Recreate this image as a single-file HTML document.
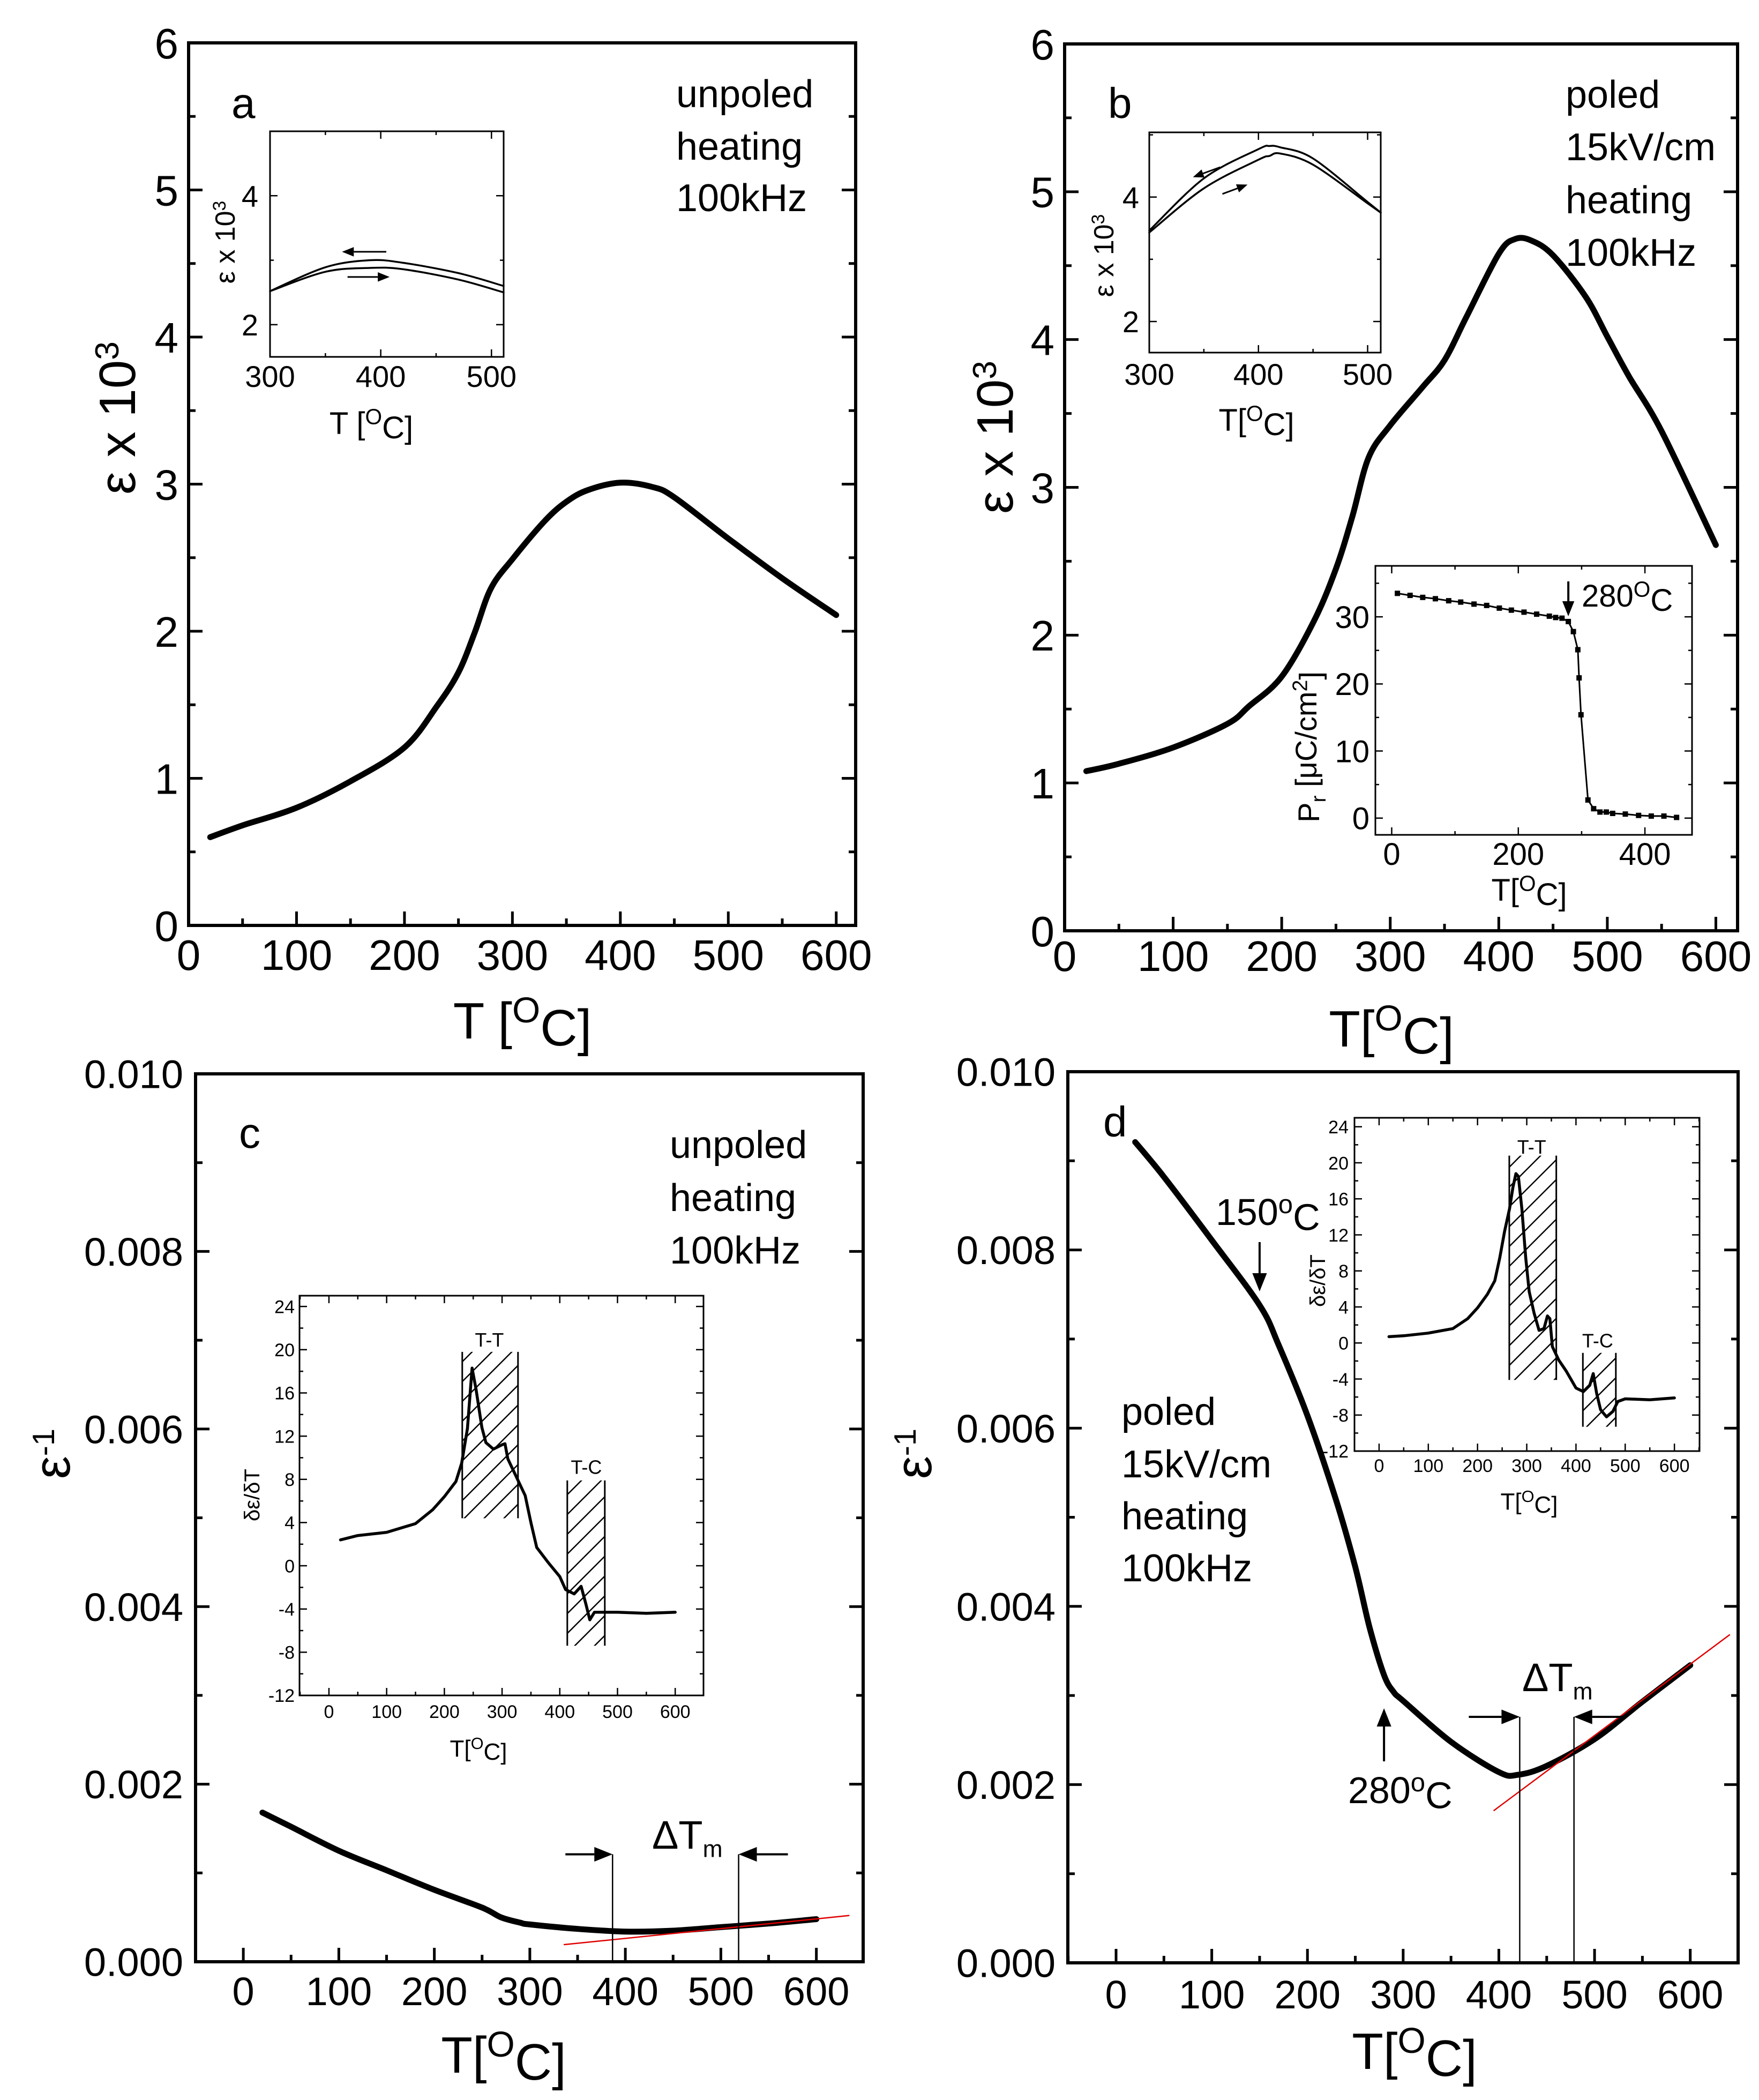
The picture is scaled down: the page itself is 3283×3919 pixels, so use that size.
<!DOCTYPE html>
<html><head><meta charset="utf-8"><style>
html,body{margin:0;padding:0;background:#fff}
svg{display:block}
text{font-family:"Liberation Sans",Arial,sans-serif;fill:#000}
</style></head><body>
<svg id="chart" xmlns="http://www.w3.org/2000/svg" width="3283" height="3919" viewBox="0 0 3283 3919">
<defs>
<pattern id="hatch" patternUnits="userSpaceOnUse" width="37" height="37">
<path d="M0,37 L37,0 M-5,5 L5,-5 M32,42 L42,32" stroke="#000" stroke-width="2.5" fill="none"/>
</pattern>
</defs>
<rect x="0" y="0" width="3283" height="3919" fill="#fff"/>
</svg>
<script>
// ---------- data ----------
const aT=[20,50,100,150,200,230,250,265,280,300,330,350,370,400,430,450,500,550,600];
const aE=[0.6,0.68,0.8,0.98,1.21,1.49,1.72,1.99,2.29,2.49,2.75,2.88,2.96,3.01,2.98,2.91,2.63,2.36,2.11];
const iaT=[300,350,390,420,470,511];
const iaCool=[2.52,2.89,3.0,2.96,2.8,2.6];
const iaHeat=[2.52,2.82,2.88,2.86,2.7,2.5];
const bT=[20,50,100,150,170,200,230,250,265,280,300,330,350,370,400,415,430,450,480,500,520,550,600];
const bE=[1.08,1.13,1.24,1.4,1.52,1.72,2.1,2.45,2.8,3.2,3.42,3.68,3.86,4.15,4.58,4.68,4.67,4.57,4.29,4.02,3.75,3.38,2.61];
const ibT=[300,350,400,410,420,450,500,512];
const ibCool=[3.46,4.3,4.77,4.82,4.8,4.62,3.92,3.75];
const ibHeat=[3.43,4.14,4.6,4.66,4.7,4.52,3.9,3.75];
const prT=[9,29,49,69,90,109,130,150,170,189,209,229,249,259,269,279,287,294,296,299,310,319,329,339,349,369,390,410,430,450];
const prP=[33.5,33.2,32.9,32.7,32.4,32.2,31.9,31.7,31.3,31.0,30.7,30.4,30.1,29.9,29.8,29.3,27.8,25.1,20.9,15.4,2.7,1.4,0.9,0.9,0.7,0.6,0.4,0.3,0.3,0.1];
const cT=[20,50,100,150,200,250,270,290,300,350,400,450,500,550,600];
const cInv=[0.00168,0.00152,0.00125,0.00103,0.00081,0.00061,0.00050,0.00044,0.00042,0.00037,0.00034,0.00035,0.00039,0.00043,0.00048];
const cFitT=[336,634];
const cFitV=[0.000193,0.00052];
const cMarks=[386.6,518.6];
const icT=[20,50,100,150,180,200,220,230,240,248,255,265,272,285,300,305,310,325,340,350,360,380,400,410,425,437,445,452,460,500,550,600];
const icD=[2.4,2.8,3.1,3.9,5.2,6.4,7.8,9.5,12.7,18.3,16.3,12.8,11.4,10.8,11.2,11.3,9.9,8.2,6.5,4.0,1.7,0.3,-1.0,-2.2,-2.6,-1.9,-3.5,-5.0,-4.3,-4.3,-4.4,-4.3];
const dT=[20,50,100,150,170,200,230,250,265,280,290,300,350,400,420,450,500,550,600];
const dInv=[0.00921,0.00882,0.00811,0.00738,0.00693,0.00614,0.00519,0.00444,0.00376,0.00323,0.00304,0.00294,0.00248,0.00214,0.00211,0.00221,0.00251,0.00293,0.00334];
const dFitT=[395,641];
const dFitV=[0.00171,0.00368];
const dMarks=[421.8,478.5];
const idT=[20,50,100,150,180,200,220,235,245,255,265,272,278,283,290,298,305,315,325,335,342,347,352,365,380,400,415,428,435,442,450,462,475,485,500,550,600];
const idD=[0.7,0.8,1.1,1.6,2.7,3.9,5.4,6.9,9.4,12.4,14.9,17.3,18.8,18.5,14.9,9.4,5.7,3.3,1.4,1.6,3.0,2.7,-0.4,-1.9,-3.1,-5.0,-5.4,-4.7,-3.4,-5.6,-7.4,-8.2,-7.6,-6.5,-6.2,-6.3,-6.1];
const mainXTicks=[0,100,200,300,400,500,600];
const epsYTicks=[0,1,2,3,4,5,6];
const invYTicks=[0,0.002,0.004,0.006,0.008,0.010];
const insetABXTicks=[300,400,500];
const insetABYTicks=[2,4];
const prXTicks=[0,200,400];
const prYTicks=[0,10,20,30];
const derivXTicks=[0,100,200,300,400,500,600];
const derivYTicks=[-12,-8,-4,0,4,8,12,16,20,24];
const hatchC=[[231,327.6,4.4,19.8],[413,478,-7.4,7.9]];
const hatchD=[[264.5,360,-4.1,20.8],[414,481,-9.3,-1.1]];

// ---------- helpers ----------
const NS='http://www.w3.org/2000/svg';
const svg=document.getElementById('chart');
const SQ=1;
function E(tag,parent){const e=document.createElementNS(NS,tag);parent.appendChild(e);return e;}
function A(e,o){for(const k in o)e.setAttribute(k,o[k]);return e;}
function scales(p){
  return {x:v=>p.L+(v-p.x0)/(p.x1-p.x0)*(p.R-p.L), y:v=>p.B-(v-p.y0)/(p.y1-p.y0)*(p.B-p.T)};
}
function txt(parent,x,y,html,fs,anchor,name,rot){
  const t=E('text',parent);
  
  
  let tr='translate('+x+','+y+')';
  if(rot) tr+=' rotate('+rot+')';
  tr+=' scale('+SQ+',1)';
  A(t,{x:0,y:0,'font-size':fs,'text-anchor':anchor||'start',transform:tr});
  t.innerHTML=html;
  return t;
}
function frame(parent,p,sw,name){
  const r=E('rect',parent);
  
  
  A(r,{x:p.L,y:p.T,width:p.R-p.L,height:p.B-p.T,fill:'none',stroke:'#000','stroke-width':sw});
}
function ticks(parent,p,o){
  const s=scales(p);
  const g=E('g',parent);
  
  
  let d='';
  const xs=[];for(let v=o.xMin0;v<=p.x1+1e-9;v+=o.xMinStep) if(v>=p.x0) xs.push(v);
  xs.forEach(v=>{const X=s.x(v);const major=o.xTicks.some(t=>Math.abs(t-v)<1e-6);const l=major?o.len:o.len/2;
    d+='M'+X+','+p.B+'v'+(-l); if(o.top) d+='M'+X+','+p.T+'v'+l;});
  const ys=[];for(let v=o.yMin0;v<=p.y1+1e-12;v+=o.yMinStep) if(v>=p.y0-1e-12) ys.push(v);
  ys.forEach(v=>{const Y=s.y(v);const major=o.yTicks.some(t=>Math.abs(t-v)<1e-9);const l=major?o.len:o.len/2;
    d+='M'+p.L+','+Y+'h'+l+'M'+p.R+','+Y+'h'+(-l);});
  A(E('path',g),{d:d,stroke:'#000','stroke-width':o.sw,fill:'none'});
  o.xTicks.forEach(v=>{txt(g,s.x(v),o.xLabY,o.fmtX?o.fmtX(v):String(v),o.fs,'middle',o.name+'-x-tick-label');});
  o.yTicks.forEach(v=>{txt(g,o.yLabX,s.y(v)+0.36*o.fs,o.fmtY?o.fmtY(v):String(v),o.fs,'end',o.name+'-y-tick-label');});
}
function curve(parent,p,xs,ys,sw,name,color,smooth){
  const s=scales(p);
  const path=E('path',parent);
  
  
  const P=xs.map((v,i)=>[s.x(v),s.y(ys[i])]);
  let d='M'+P[0][0].toFixed(1)+','+P[0][1].toFixed(1);
  for(let i=1;i<P.length;i++){
    if(smooth){
      const p0=P[Math.max(0,i-2)],p1=P[i-1],p2=P[i],p3=P[Math.min(P.length-1,i+1)];
      const c1=[p1[0]+(p2[0]-p0[0])/6,p1[1]+(p2[1]-p0[1])/6];
      const c2=[p2[0]-(p3[0]-p1[0])/6,p2[1]-(p3[1]-p1[1])/6];
      d+='C'+c1[0].toFixed(1)+','+c1[1].toFixed(1)+' '+c2[0].toFixed(1)+','+c2[1].toFixed(1)+' '+p2[0].toFixed(1)+','+p2[1].toFixed(1);
    } else d+='L'+P[i][0].toFixed(1)+','+P[i][1].toFixed(1);
  }
  A(path,{d:d,fill:'none',stroke:color||'#000','stroke-width':sw,'stroke-linejoin':'round','stroke-linecap':'round'});
  return path;
}
function arrow(parent,x1,y1,x2,y2,sw,head,name){
  const g=E('g',parent);
  
  
  const ang=Math.atan2(y2-y1,x2-x1);
  const bx=x2-head*Math.cos(ang),by=y2-head*Math.sin(ang);
  A(E('line',g),{x1:x1,y1:y1,x2:bx,y2:by,stroke:'#000','stroke-width':sw});
  const w=head*0.4;
  const px=-Math.sin(ang)*w,py=Math.cos(ang)*w;
  A(E('path',g),{d:'M'+x2+','+y2+'L'+(bx+px)+','+(by+py)+'L'+(bx-px)+','+(by-py)+'Z',fill:'#000'});
}
function group(name){const g=E('g',svg);return g;}
const SUPO='<tspan dy="-0.45em" font-size="0.7em">O</tspan><tspan dy="0.45em">';
function degLabel(pre){return pre+SUPO+'C]</tspan>';}

// ---------- Panel a ----------
const PA={L:352,R:1597,T:80,B:1727,x0:0,x1:618,y0:0,y1:6};
const ga=group('panel-a');
curve(ga,PA,aT,aE,11,'curve-a-permittivity',null,true);
frame(ga,PA,6,'panel-a-frame');
ticks(ga,PA,{name:'panel-a',xTicks:mainXTicks,xMin0:0,xMinStep:50,yTicks:epsYTicks,yMin0:0,yMinStep:0.5,len:26,sw:5,fs:80,xLabY:1810,yLabX:333});
txt(ga,975,1938,degLabel('T ['),96,'middle','panel-a-x-axis-title');
txt(ga,252,780,'ε x 10<tspan dy="-0.5em" font-size="0.65em">3</tspan>',96,'middle','panel-a-y-axis-title',-90);
txt(ga,432,220,'a',80,'start','panel-a-letter');
txt(ga,1262,200,'unpoled',72,'start','panel-a-note-line1');
txt(ga,1262,298,'heating',72,'start','panel-a-note-line2');
txt(ga,1262,394,'100kHz',72,'start','panel-a-note-line3');
const IA={L:504,R:940,T:245,B:666,x0:300,x1:511,y0:1.5,y1:5};
curve(ga,IA,iaT,iaCool,3.5,'inset-a-cooling-curve',null,true);
curve(ga,IA,iaT,iaHeat,3.5,'inset-a-heating-curve',null,true);
frame(ga,IA,3,'inset-a-frame');
ticks(ga,IA,{name:'inset-a',xTicks:insetABXTicks,xMin0:300,xMinStep:50,yTicks:insetABYTicks,yMin0:2,yMinStep:1,len:14,sw:2.5,fs:56,top:true,xLabY:722,yLabX:482});
txt(ga,693,810,degLabel('T ['),58,'middle','inset-a-x-axis-title');
txt(ga,438,452,'ε x 10<tspan dy="-0.5em" font-size="0.65em">3</tspan>',52,'middle','inset-a-y-axis-title',-90);
(function(){const s=scales(IA);
arrow(ga,s.x(405),s.y(3.13),s.x(365),s.y(3.13),3,22,'inset-a-cooling-arrow');
arrow(ga,s.x(370),s.y(2.74),s.x(408),s.y(2.74),3,22,'inset-a-heating-arrow');})();

// ---------- Panel b ----------
const PB={L:1987,R:3243,T:82,B:1737,x0:0,x1:620,y0:0,y1:6};
const gb=group('panel-b');
curve(gb,PB,bT,bE,11,'curve-b-permittivity',null,true);
frame(gb,PB,6,'panel-b-frame');
ticks(gb,PB,{name:'panel-b',xTicks:mainXTicks,xMin0:0,xMinStep:50,yTicks:epsYTicks,yMin0:0,yMinStep:0.5,len:26,sw:5,fs:80,xLabY:1812,yLabX:1968});
txt(gb,2597,1953,degLabel('T['),96,'middle','panel-b-x-axis-title');
txt(gb,1890,816,'ε x 10<tspan dy="-0.5em" font-size="0.65em">3</tspan>',96,'middle','panel-b-y-axis-title',-90);
txt(gb,2068,220,'b',80,'start','panel-b-letter');
txt(gb,2922,201,'poled',72,'start','panel-b-note-line1');
txt(gb,2922,299,'15kV/cm',72,'start','panel-b-note-line2');
txt(gb,2922,398,'heating',72,'start','panel-b-note-line3');
txt(gb,2922,496,'100kHz',72,'start','panel-b-note-line4');
const IB={L:2145,R:2577,T:247,B:658,x0:300,x1:512,y0:1.5,y1:5.04};
curve(gb,IB,ibT,ibCool,3.5,'inset-b-cooling-curve',null,true);
curve(gb,IB,ibT,ibHeat,3.5,'inset-b-heating-curve',null,true);
frame(gb,IB,3,'inset-b-frame');
ticks(gb,IB,{name:'inset-b',xTicks:insetABXTicks,xMin0:300,xMinStep:50,yTicks:insetABYTicks,yMin0:2,yMinStep:1,len:14,sw:2.5,fs:56,top:true,xLabY:718,yLabX:2126});
txt(gb,2345,804,degLabel('T['),58,'middle','inset-b-x-axis-title');
txt(gb,2078,477,'ε x 10<tspan dy="-0.5em" font-size="0.65em">3</tspan>',52,'middle','inset-b-y-axis-title',-90);
(function(){const s=scales(IB);
arrow(gb,s.x(365),s.y(4.48),s.x(340),s.y(4.32),3,20,'inset-b-cooling-arrow');
arrow(gb,s.x(367),s.y(4.05),s.x(390),s.y(4.2),3,20,'inset-b-heating-arrow');})();
// Pr inset
const IP={L:2567,R:3158,T:1056,B:1558,x0:-25.8,x1:474.4,y0:-2.5,y1:37.6};
curve(gb,IP,prT,prP,3,'pr-curve');
(function(){const s=scales(IP);
prT.forEach((t,i)=>{const m=E('rect',gb);


A(m,{x:s.x(t)-5,y:s.y(prP[i])-5,width:10,height:10,fill:'#000'});});
arrow(gb,s.x(279),1085,s.x(279),1150,4,28,'pr-280c-arrow');})();
frame(gb,IP,3,'pr-inset-frame');
ticks(gb,IP,{name:'pr-inset',xTicks:prXTicks,xMin0:0,xMinStep:100,yTicks:prYTicks,yMin0:0,yMinStep:5,len:14,sw:2.5,fs:58,top:true,xLabY:1614,yLabX:2556});
txt(gb,2952,1132,'280<tspan dy="-0.45em" font-size="0.7em">O</tspan><tspan dy="0.45em">C</tspan>',58,'start','pr-280c-label');
txt(gb,2854,1681,degLabel('T['),58,'middle','pr-inset-x-axis-title');
txt(gb,2462,1394,'P<tspan dy="0.3em" font-size="0.7em">r</tspan><tspan dy="-0.3em"> [μC/cm</tspan><tspan dy="-0.45em" font-size="0.7em">2</tspan><tspan dy="0.45em">]</tspan>',56,'middle','pr-inset-y-axis-title',-90);

// ---------- Panel c ----------
const PC={L:365,R:1611,T:2004,B:3661,x0:-50,x1:649,y0:0,y1:0.010};
const gc=group('panel-c');
const fmtInv=v=>v.toFixed(3);
curve(gc,PC,cT,cInv,11,'curve-c-inverse-permittivity',null,true);
curve(gc,PC,cFitT,cFitV,2.5,'panel-c-linear-fit','#e00000');
(function(){const s=scales(PC);const yA=s.y(0.00121);
cMarks.forEach(m=>{const l=E('line',gc);A(l,{x1:s.x(m),y1:PC.B,x2:s.x(m),y2:yA,stroke:'#000','stroke-width':2.5});});
arrow(gc,s.x(cMarks[0])-88,yA,s.x(cMarks[0]),yA,4,34,'panel-c-left-arrow');
arrow(gc,s.x(cMarks[1])+92,yA,s.x(cMarks[1]),yA,4,34,'panel-c-right-arrow');})();
frame(gc,PC,6,'panel-c-frame');
ticks(gc,PC,{name:'panel-c',xTicks:mainXTicks,xMin0:-50,xMinStep:50,yTicks:invYTicks,yMin0:0,yMinStep:0.001,len:26,sw:5,fs:74,xLabY:3742,yLabX:342,fmtY:fmtInv});
txt(gc,940,3868,degLabel('T['),96,'middle','panel-c-x-axis-title');
txt(gc,130,2713,'ε<tspan dy="-0.5em" font-size="0.6em">-1</tspan>',96,'middle','panel-c-y-axis-title',-90);
txt(gc,446,2142,'c',80,'start','panel-c-letter');
txt(gc,1250,2161,'unpoled',72,'start','panel-c-note-line1');
txt(gc,1250,2260,'heating',72,'start','panel-c-note-line2');
txt(gc,1250,2358,'100kHz',72,'start','panel-c-note-line3');
txt(gc,1217,3450,'ΔT<tspan dy="0.35em" font-size="0.6em">m</tspan>',74,'start','panel-c-delta-tm-label');
const IC={L:559,R:1313,T:2418,B:3164,x0:-51,x1:649,y0:-12,y1:25};
(function(){const s=scales(IC);
hatchC.forEach(h=>{const r=E('rect',gc);
A(r,{x:s.x(h[0]),y:s.y(h[3]),width:s.x(h[1])-s.x(h[0]),height:s.y(h[2])-s.y(h[3]),fill:'url(#hatch)'});
[h[0],h[1]].forEach(v=>{const l=E('line',gc);A(l,{x1:s.x(v),x2:s.x(v),y1:s.y(h[2]),y2:s.y(h[3]),stroke:'#000','stroke-width':3});});});
txt(gc,s.x(278),s.y(20.3),'T-T',36,'middle','inset-c-tt-label');
txt(gc,s.x(446),s.y(8.5),'T-C',36,'middle','inset-c-tc-label');})();
curve(gc,IC,icT,icD,5.5,'inset-c-derivative-curve');
frame(gc,IC,3,'inset-c-frame');
ticks(gc,IC,{name:'inset-c',xTicks:derivXTicks,xMin0:-50,xMinStep:50,yTicks:derivYTicks,yMin0:-12,yMinStep:2,len:14,sw:2.5,fs:34,top:true,xLabY:3206,yLabX:550});
txt(gc,893,3278,degLabel('T['),44,'middle','inset-c-x-axis-title');
txt(gc,484,2790,'δε/δT',40,'middle','inset-c-y-axis-title',-90);

// ---------- Panel d ----------
const PD={L:1993,R:3244,T:2000,B:3663,x0:-50.4,x1:650,y0:0,y1:0.010};
const gd=group('panel-d');
curve(gd,PD,dT,dInv,11,'curve-d-inverse-permittivity',null,true);
curve(gd,PD,dFitT,dFitV,2.5,'panel-d-linear-fit','#e00000');
(function(){const s=scales(PD);const yA=3204;
dMarks.forEach(m=>{const l=E('line',gd);A(l,{x1:s.x(m),y1:PD.B,x2:s.x(m),y2:yA,stroke:'#000','stroke-width':2.5});});
arrow(gd,s.x(dMarks[0])-95,yA,s.x(dMarks[0]),yA,4,34,'panel-d-left-arrow');
arrow(gd,s.x(dMarks[1])+90,yA,s.x(dMarks[1]),yA,4,34,'panel-d-right-arrow');
arrow(gd,s.x(150),2318,s.x(150),2410,4,34,'panel-d-150c-arrow');
arrow(gd,s.x(280),3287,s.x(280),3188,4,34,'panel-d-280c-arrow');})();
frame(gd,PD,6,'panel-d-frame');
ticks(gd,PD,{name:'panel-d',xTicks:mainXTicks,xMin0:-50,xMinStep:50,yTicks:invYTicks,yMin0:0,yMinStep:0.001,len:26,sw:5,fs:74,xLabY:3748,yLabX:1970,fmtY:fmtInv});
txt(gd,2640,3861,degLabel('T['),96,'middle','panel-d-x-axis-title');
txt(gd,1738,2713,'ε<tspan dy="-0.5em" font-size="0.6em">-1</tspan>',96,'middle','panel-d-y-axis-title',-90);
txt(gd,2059,2121,'d',80,'start','panel-d-letter');
txt(gd,2093,2659,'poled',72,'start','panel-d-note-line1');
txt(gd,2093,2757,'15kV/cm',72,'start','panel-d-note-line2');
txt(gd,2093,2854,'heating',72,'start','panel-d-note-line3');
txt(gd,2093,2951,'100kHz',72,'start','panel-d-note-line4');
txt(gd,2269,2286,'150<tspan dy="-0.45em" font-size="0.7em">o</tspan><tspan dy="0.45em">C</tspan>',70,'start','panel-d-150c-label');
txt(gd,2516,3365,'280<tspan dy="-0.45em" font-size="0.7em">o</tspan><tspan dy="0.45em">C</tspan>',70,'start','panel-d-280c-label');
txt(gd,2841,3156,'ΔT<tspan dy="0.35em" font-size="0.6em">m</tspan>',74,'start','panel-d-delta-tm-label');
const ID={L:2528,R:3172,T:2086,B:2708,x0:-50,x1:651,y0:-12,y1:25};
(function(){const s=scales(ID);
hatchD.forEach(h=>{const r=E('rect',gd);
A(r,{x:s.x(h[0]),y:s.y(h[3]),width:s.x(h[1])-s.x(h[0]),height:s.y(h[2])-s.y(h[3]),fill:'url(#hatch)'});
[h[0],h[1]].forEach(v=>{const l=E('line',gd);A(l,{x1:s.x(v),x2:s.x(v),y1:s.y(h[2]),y2:s.y(h[3]),stroke:'#000','stroke-width':3});});});
txt(gd,s.x(310),s.y(21),'T-T',36,'middle','inset-d-tt-label');
txt(gd,s.x(444),s.y(-0.5),'T-C',36,'middle','inset-d-tc-label');})();
curve(gd,ID,idT,idD,5.5,'inset-d-derivative-curve');
frame(gd,ID,3,'inset-d-frame');
ticks(gd,ID,{name:'inset-d',xTicks:derivXTicks,xMin0:-50,xMinStep:50,yTicks:derivYTicks,yMin0:-12,yMinStep:2,len:14,sw:2.5,fs:34,top:true,xLabY:2747,yLabX:2517});
txt(gd,2854,2817,degLabel('T['),44,'middle','inset-d-x-axis-title');
txt(gd,2473,2390,'δε/δT',40,'middle','inset-d-y-axis-title',-90);
</script>
</body></html>
